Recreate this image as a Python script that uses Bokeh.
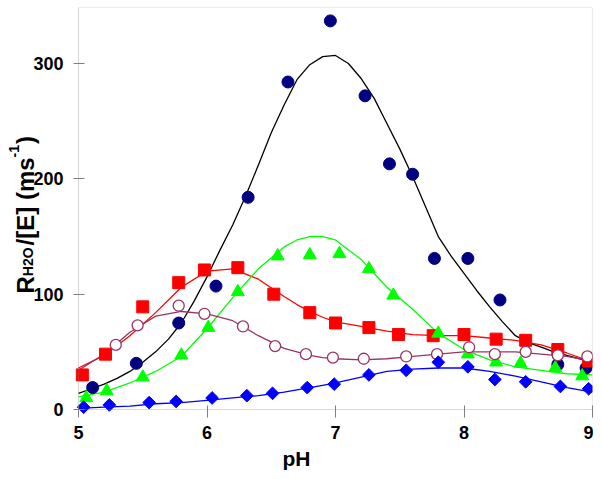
import numpy as np
from bokeh.plotting import figure
from bokeh.models import Range1d, FixedTicker, BoxAnnotation
from bokeh.core.properties import value
from bokeh.embed import file_html
from bokeh.resources import INLINE

# ---------------- data ----------------
ph_circ = [5.11, 5.45, 5.78, 6.07, 6.32, 6.63, 6.96, 7.23, 7.42, 7.60, 7.77, 8.03, 8.28, 8.73, 8.95]
v_circ = [19, 40, 75, 107, 184, 284, 337, 272, 213, 204, 131, 131, 95, 39, 36]

ph_sq = [5.03, 5.21, 5.50, 5.78, 5.98, 6.24, 6.52, 6.80, 7.00, 7.26, 7.49, 7.76, 8.00, 8.25, 8.48, 8.73, 8.97]
v_sq = [30, 48, 89, 110, 121, 123, 100, 84, 75, 71, 65, 64, 65, 61, 60, 52, 42]

ph_tri = [5.06, 5.22, 5.50, 5.80, 6.01, 6.24, 6.55, 6.80, 7.03, 7.26, 7.45, 7.80, 8.03, 8.25, 8.44, 8.71, 8.92]
v_tri = [10, 16, 28, 47, 71, 102, 133, 134, 135, 122, 99, 66, 48, 41, 40, 36, 29]

ph_open = [5.29, 5.46, 5.78, 5.98, 6.28, 6.53, 6.77, 6.98, 7.22, 7.55, 7.79, 8.04, 8.24, 8.48, 8.73, 8.96]
v_open = [56, 73, 90, 83, 72, 55, 48, 45, 44, 46, 48, 54, 48, 50, 47, 46]

ph_dia = [5.04, 5.24, 5.55, 5.76, 6.04, 6.31, 6.51, 6.78, 6.99, 7.26, 7.55, 7.80, 8.03, 8.24, 8.48, 8.75, 8.97]
v_dia = [2, 4, 6, 7, 10, 12, 14, 19, 22, 30, 34, 41, 37, 26, 24, 20, 18]

# fitted curves
black_ph = [5.0, 5.1, 5.2, 5.3, 5.4, 5.5, 5.6, 5.7, 5.8, 5.9, 6.0, 6.1, 6.2, 6.3, 6.4, 6.5, 6.6, 6.7, 6.8, 6.9,
            7.0, 7.1, 7.2, 7.3, 7.4, 7.5, 7.6, 7.7, 7.8, 7.9, 8.0, 8.1, 8.2, 8.3, 8.4, 8.5, 8.6, 8.7, 8.8, 8.9, 9.0]
fit_black = [14, 18, 22, 27, 33, 41, 50, 61, 75, 94, 115, 138, 160, 185, 212, 240, 264, 286, 299, 306,
             307, 300, 287, 270, 248, 226, 202, 176, 150, 133, 118, 103, 89, 76, 64, 58, 54, 50, 47, 44, 41]

fit_ph = [5.0, 5.2, 5.4, 5.6, 5.8, 6.0, 6.2, 6.4, 6.6, 6.7, 6.8, 6.9, 7.0, 7.2, 7.4, 7.6, 7.8, 8.0, 8.2, 8.4, 8.6, 8.8, 9.0]
fit_red = [36, 47, 64, 84, 106, 120, 122, 113, 98, 91, 85, 80, 76, 72, 68, 65, 64, 64, 62, 60, 56, 49, 41]
fit_green = [11, 15, 23, 33, 46, 70, 97, 122, 141, 147, 150, 150, 147, 130, 106, 87, 66, 52, 43, 37, 34, 31, 30]
fit_plum = [34, 48, 67, 81, 85, 83, 77, 64, 53, 50, 47, 45, 44, 43, 44, 46, 48, 50, 50, 50, 48, 46, 42]
fit_blue = [1, 2, 3, 5, 6, 8, 10, 12, 15, 17, 19, 21, 23, 28, 33, 35, 36, 36, 33, 29, 24, 19, 15]

x_ticks = [5, 6, 7, 8, 9]
y_ticks = [0, 100, 200, 300]

FONT = "Liberation Sans"
GRAY = "#808080"

X_MIN, X_MAX = 5, 9
Y_MIN, Y_MAX = 0, 348.6

# layout (pixels): plot box from x=78 to 592, y=7 to 409; the area left of
# and just below the box belongs to the frame too (for the y axis and its title).
BOX_LEFT, BOX_RIGHT = 78, 592
PX_PER_PH = (BOX_RIGHT - BOX_LEFT) / (X_MAX - X_MIN)
BOX_TOP, BOX_BOTTOM = 7, 409
PX_PER_V = (BOX_BOTTOM - BOX_TOP) / (Y_MAX - Y_MIN)
FRAME_BOTTOM = 417
BOTTOM_BORDER = 58


def px_to_ph(px):
    return X_MIN + (px - BOX_LEFT) / PX_PER_PH


def py_to_v(py):
    return (BOX_BOTTOM - py) / PX_PER_V


p = figure(width=BOX_RIGHT + 1, height=FRAME_BOTTOM + BOTTOM_BORDER, output_backend="svg",
           toolbar_location=None,
           x_range=Range1d(px_to_ph(0), X_MAX), y_range=Range1d(py_to_v(FRAME_BOTTOM), Y_MAX),
           min_border_left=0, min_border_right=1, min_border_top=BOX_TOP, min_border_bottom=BOTTOM_BORDER)
p.background_fill_color = "white"
p.border_fill_color = "white"
p.outline_line_color = None
p.grid.visible = False

for ax in (p.xaxis[0], p.yaxis[0]):
    ax.axis_line_color = None
    ax.major_tick_line_color = GRAY
    ax.minor_tick_line_color = None
    ax.major_label_text_font = FONT
    ax.major_label_text_font_style = "bold"
    ax.major_label_text_font_size = "18px"
    ax.major_label_text_color = "black"

p.yaxis.fixed_location = X_MIN
p.yaxis.major_tick_in = 6
p.yaxis.major_tick_out = 5
p.yaxis.major_label_standoff = 10
p.xaxis.major_tick_in = 12
p.xaxis.major_tick_out = 0
p.xaxis.ticker = FixedTicker(ticks=x_ticks)
p.yaxis.ticker = FixedTicker(ticks=y_ticks)
p.xaxis.major_label_standoff = 8

p.xaxis.axis_label = "pH"
p.xaxis.axis_label_text_font = FONT
p.xaxis.axis_label_text_font_style = "bold"
p.xaxis.axis_label_text_font_size = "21px"
p.xaxis.axis_label_text_color = "black"
p.xaxis.axis_label_standoff = 5

# plot box
p.add_layout(BoxAnnotation(left=X_MIN, right=X_MAX, bottom=Y_MIN, top=Y_MAX,
                           fill_color=None, line_color=GRAY, line_width=1.2))

# ---------------- fitted lines ----------------
p.line(black_ph, fit_black, line_color="black", line_width=1.3)
p.line(fit_ph, fit_red, line_color="#FF0000", line_width=1.3)
p.line(fit_ph, fit_green, line_color="#00FF00", line_width=1.3)
p.line(fit_ph, fit_plum, line_color="#993366", line_width=1.3)
p.line(fit_ph, fit_blue, line_color="#0000FF", line_width=1.3)

# ---------------- markers ----------------
p.scatter(ph_circ, v_circ, marker="circle", size=12, fill_color="#000080", line_color="#000080")
p.scatter(ph_sq, v_sq, marker="square", size=12, fill_color="#FF0000", line_color="#FF0000")
p.scatter(ph_tri, v_tri, marker="triangle", size=13, fill_color="#00FF00", line_color="#00FF00")
p.scatter(ph_open, v_open, marker="circle", size=11, fill_color="white", line_color="#993366", line_width=1.3)
p.scatter(ph_dia, v_dia, marker="square", size=9, angle=np.pi / 4, fill_color="#0000FF", line_color="#0000FF")

# ---------------- y axis title with sub/superscripts ----------------
big_x = [px_to_ph(25)] * 3
big_y = [py_to_v(293), py_to_v(244.9), py_to_v(143.6)]
big_txt = ["R", "/[E] (ms", ")"]
p.text(x=big_x, y=big_y, text=big_txt, angle=np.pi / 2, text_align="left", text_baseline="alphabetic",
       text_font=value(FONT), text_font_style="bold", text_font_size="24px", text_color="black")
small_x = [px_to_ph(27), px_to_ph(13)]
small_y = [py_to_v(275.7), py_to_v(156.9)]
small_txt = ["H2O", "-1"]
p.text(x=small_x, y=small_y, text=small_txt, angle=np.pi / 2, text_align="left", text_baseline="alphabetic",
       text_font=value(FONT), text_font_style="bold", text_font_size="14px", text_color="black")

open("out.html", "w").write(file_html(p, INLINE))
